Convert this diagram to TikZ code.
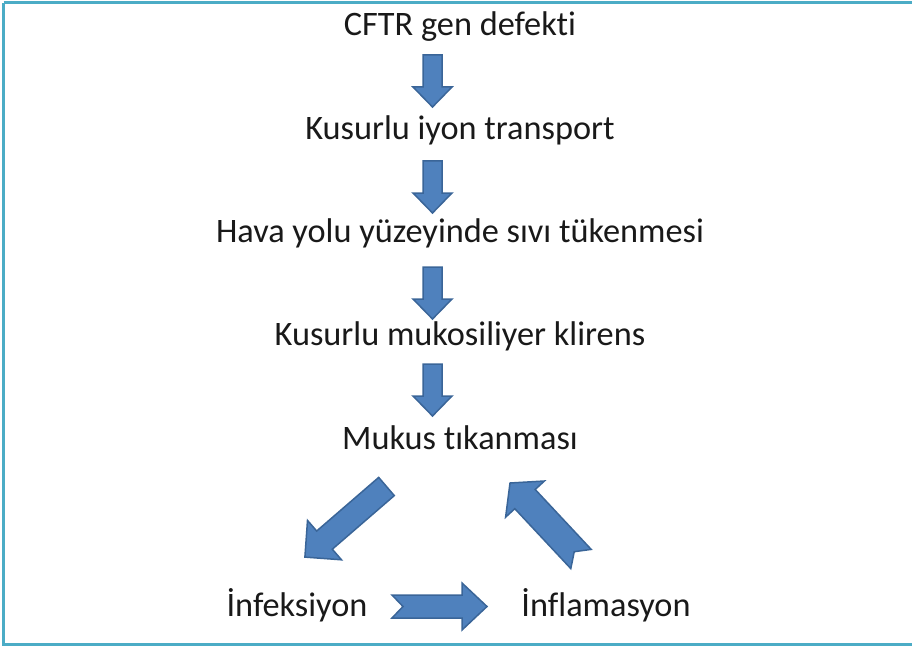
\documentclass[tikz,border=0pt]{standalone}
\usepackage{fontspec}
\setmainfont[Ligatures={NoCommon}]{Carlito}
\definecolor{arrfill}{HTML}{4F81BD}
\definecolor{arrline}{HTML}{3A6598}
\definecolor{frame}{HTML}{4BACC6}
\tikzset{
  lbl/.style={anchor=base, inner sep=0pt, font=\fontsize{34.3}{40}\selectfont, text=black!90},
  barrow/.style={fill=arrfill, draw=arrline, line width=1.5pt, line join=miter},
  downarrow/.pic={\path[barrow] (-9.5,0) -- (9.5,0) -- (9.5,32) -- (19.5,32) -- (0,52) -- (-19.5,32) -- (-9.5,32) -- cycle;}
}
\begin{document}
\begin{tikzpicture}[x=1pt,y=-1pt]
\useasboundingbox (0,0) rectangle (912,647);
\draw[frame, line width=3pt] (3.5,3) -- (940,3) (3.5,3) -- (3.5,644.5) -- (940,644.5);
\node[lbl] (t1) at (460,36) {CFTR gen defekti};
\node[lbl] (t2) at (460,140) {Kusurlu iyon transport};
\node[lbl] (t3) at (460,242) {Hava yolu yüzeyinde sıvı tükenmesi};
\node[lbl] (t4) at (460,345) {Kusurlu mukosiliyer klirens};
\node[lbl] (t5) at (460,449) {Mukus tıkanması};
\node[lbl] (t6) at (297,616) {İnfeksiyon};
\node[lbl] (t7) at (606,616) {İnflamasyon};
\pic at (432.5,55) {downarrow};
\pic at (432.5,161) {downarrow};
\pic at (432.5,267) {downarrow};
\pic at (432.5,364) {downarrow};
% Mukus -> Infeksiyon
\path[barrow] (378.7,477.4) -- (316.7,531.0) -- (307.5,520.4) -- (304.9,557.1) -- (341.5,559.8) -- (332.3,549.2) -- (394.3,495.6) -- cycle;
% Inflamasyon -> Mukus
\path[barrow] (591.2,549.4) -- (535.2,489.5) -- (544.4,481.0) -- (510,483) -- (505.6,517.2) -- (514.8,508.7) -- (570.8,568.6) -- (574.2,551.7) -- cycle;
% Infeksiyon -> Inflamasyon
\path[barrow] (392,595) -- (462,595) -- (462,583) -- (487,606.5) -- (462,630) -- (462,618) -- (392,618) -- (403,606.5) -- cycle;
\end{tikzpicture}
\end{document}
